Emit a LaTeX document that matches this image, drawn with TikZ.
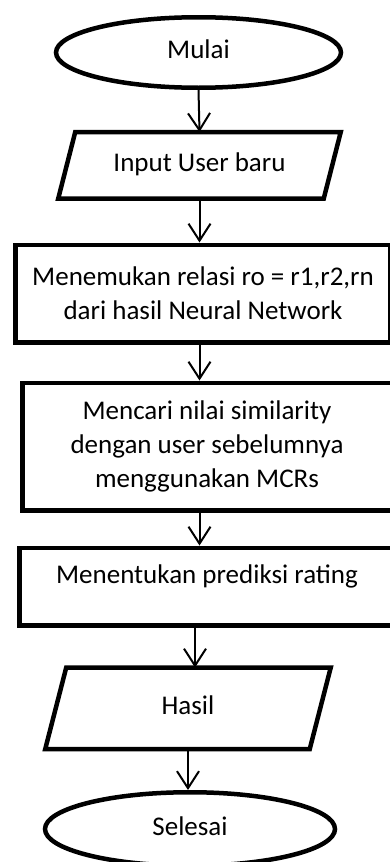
\documentclass[tikz,border=0pt]{standalone}
\usepackage{fontspec}
\setmainfont{Carlito}
\usetikzlibrary{arrows.meta,positioning,shapes.geometric}

\begin{document}
\begin{tikzpicture}[
  x=1pt, y=1pt,
  font=\fontsize{27}{34}\selectfont,
  base/.style={draw, line width=4.5pt, inner sep=0pt, text height=18pt, text depth=6pt},
  terminal/.style={base, ellipse},
  io/.style={base, draw=none, outer sep=0pt},
  ioline/.style={line width=4.5pt},
  process/.style={draw, line width=4.5pt, align=center},
  arrow/.style={-{Straight Barb[length=17pt,width=22pt]}, line width=2pt},
]
  \useasboundingbox (0,0) rectangle (390,-862);

  % Start and input
  \node[terminal, minimum width=285pt, minimum height=70.5pt] (mulai) at (198.5,-52.5) {Mulai};
  \node[io, minimum width=282.5pt, minimum height=66.5pt, below=42pt of mulai, xshift=1pt] (input) {Input User baru};
  \draw[ioline] ([xshift=17pt]input.north west) -- (input.north east)
    -- ([xshift=-17pt]input.south east) -- (input.south west) -- cycle;

  % Processes
  \node[process, minimum width=375pt, minimum height=97.5pt, below=44pt of input, xshift=3.5pt]
    (relasi) {Menemukan relasi ro = r1,r2,rn\\dari hasil Neural Network};
  \node[process, minimum width=369.5pt, minimum height=127.5pt, below=36pt of relasi, xshift=4pt]
    (similar) {Mencari nilai similarity\\dengan user sebelumnya\\menggunakan MCRs};
  \node[process, minimum width=375.5pt, minimum height=77.5pt, text height=18pt, text depth=24pt,
    below=33pt of similar] (prediksi) {Menentukan prediksi rating};

  % Output and end
  \node[io, minimum width=285.5pt, minimum height=81.5pt, below=40pt of prediksi, xshift=-19pt] (hasil) {Hasil};
  \draw[ioline] ([xshift=21pt]hasil.north west) -- (hasil.north east)
    -- ([xshift=-21pt]hasil.south east) -- (hasil.south west) -- cycle;
  \node[terminal, minimum width=290pt, minimum height=73.5pt, below=41pt of hasil, xshift=2pt] (selesai) {Selesai};

  % Arrows
  \draw[arrow] (mulai.south) -- (input.north);
  \draw[arrow] (input.south) -- (input.south |- relasi.north);
  \draw[arrow] (relasi.south -| input) -- (similar.north -| input);
  \draw[arrow] (similar.south -| input) -- (prediksi.north -| input);
  \draw[arrow] ([xshift=7pt]prediksi.south -| hasil) -- ([xshift=7pt]hasil.north);
  \draw[arrow] (hasil.south) -- (hasil.south |- selesai.north);
\end{tikzpicture}
\end{document}
